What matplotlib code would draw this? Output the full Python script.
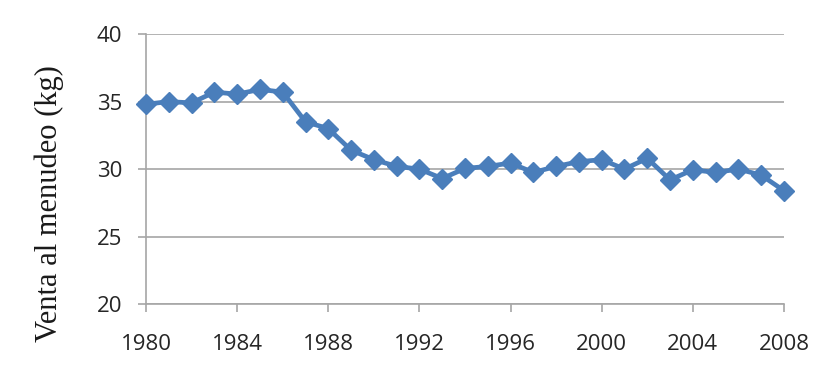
import matplotlib
matplotlib.use('Agg')
import matplotlib.pyplot as plt

years = list(range(1980, 2009))
venta = [34.8, 35.0, 34.9, 35.7, 35.55, 35.9, 35.7, 33.5, 33.0, 31.4,
         30.7, 30.2, 30.0, 29.3, 30.05, 30.2, 30.45, 29.75, 30.2, 30.55,
         30.7, 30.0, 30.8, 29.2, 29.95, 29.75, 30.0, 29.55, 28.4]
xticks = list(range(1980, 2009, 4))
yticks = [20, 25, 30, 35, 40]

fig = plt.figure(figsize=(8.32, 3.70), dpi=100)
ax = fig.add_axes([0.1755, 0.178, 0.7668, 0.730])

ax.plot(years, venta, color='#4a7ebb', lw=3.4, marker='D', ms=10.5,
        mec='#4a7ebb', mfc='#4a7ebb', clip_on=False, zorder=3)

ax.set_xlim(1980, 2008)
ax.set_ylim(20, 40)
ax.set_xticks(xticks)
ax.set_yticks(yticks)
ax.yaxis.grid(True, color='#a6a6a6', lw=1.2)
ax.set_axisbelow(True)

for s in ['top', 'right']:
    ax.spines[s].set_visible(False)
for s in ['left', 'bottom']:
    ax.spines[s].set_color('#a6a6a6')
    ax.spines[s].set_linewidth(1.2)

ax.tick_params(axis='x', direction='out', length=5.8, width=1.2,
               color='#a6a6a6', pad=16, labelsize=16, labelcolor='#262626')
ax.tick_params(axis='y', direction='out', length=5.8, width=1.2,
               color='#a6a6a6', pad=11.5, labelsize=16, labelcolor='#262626')
for lab in ax.get_xticklabels() + ax.get_yticklabels():
    lab.set_fontfamily('Open Sans')

fig.text(0.059, 1 - 204 / 370, 'Venta al menudeo (kg)', rotation=90,
         ha='center', va='center', fontsize=22, family='Liberation Serif',
         color='#1a1a1a')

fig.savefig('out.png', dpi=100)
